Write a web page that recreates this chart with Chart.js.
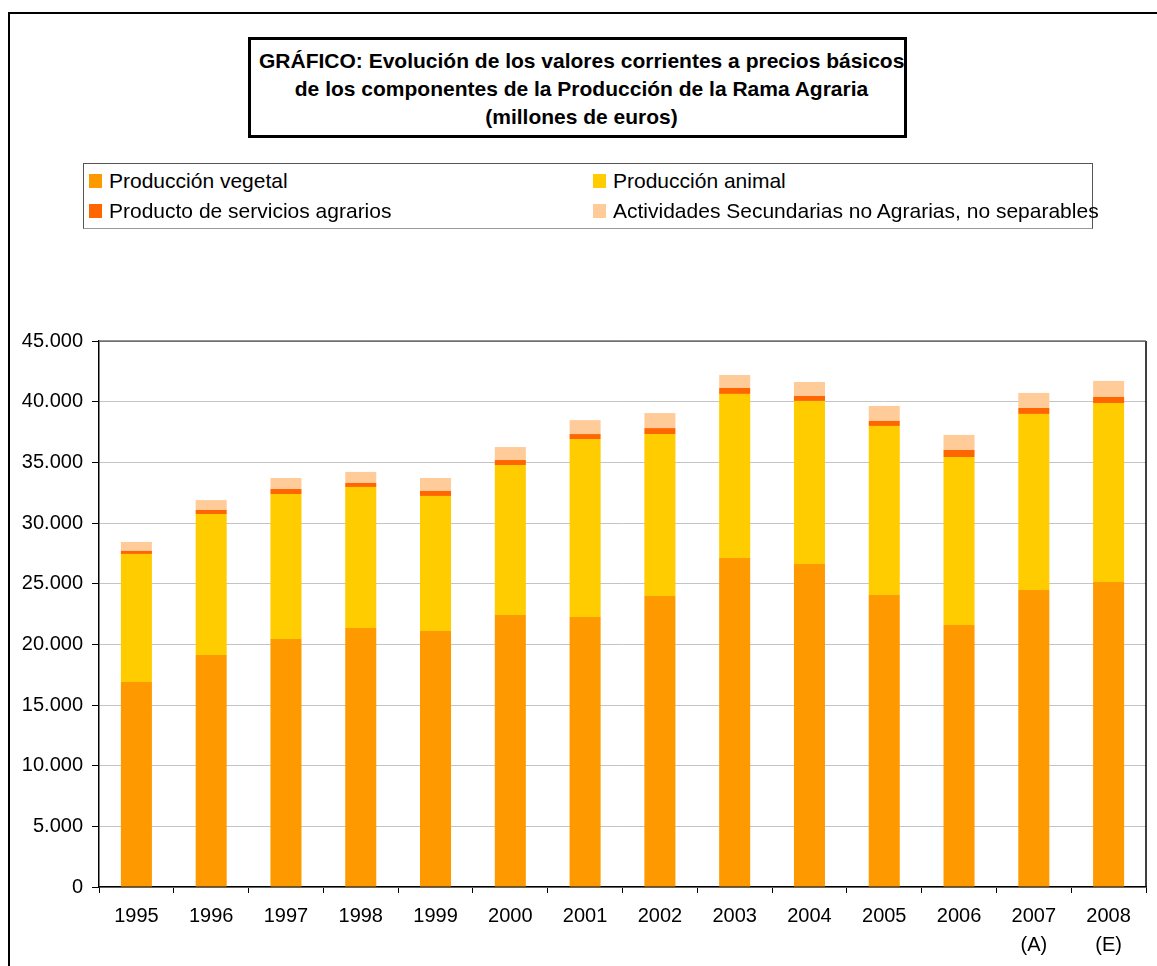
<!DOCTYPE html>
<html>
<head>
<meta charset="utf-8">
<script src="https://cdn.jsdelivr.net/npm/chart.js@4/dist/chart.umd.min.js"></script>
<style>
  html, body { margin:0; padding:0; background:#fff; }
  body { width:1157px; height:966px; position:relative; overflow:hidden; font-family:"Liberation Sans", Arial, sans-serif; }
  #frame { position:absolute; left:8px; top:12px; width:1200px; height:1000px; border-top:2px solid #000; border-left:2px solid #000; box-sizing:border-box; }
  #cv { position:absolute; left:0; top:0; }
  #title { position:absolute; left:248px; top:37px; width:659px; height:101px; border:3px solid #000; box-sizing:border-box; background:#fff;
           font-weight:bold; font-size:21px; text-align:center; padding-top:7px; padding-left:8px; }
  #title div { line-height:28px; white-space:nowrap; }
  #legend { position:absolute; left:83px; top:163px; width:1010px; height:66px; border:1px solid #555; border-bottom-color:#999; box-sizing:border-box; background:#fff; }
  .li { position:absolute; height:30px; line-height:30px; font-size:21px; white-space:nowrap; color:#000; }
  .sw { position:absolute; width:13px; height:14px; }
</style>
</head>
<body>
<div id="frame"></div>
<canvas id="cv" width="1157" height="966"></canvas>
<div id="title">
  <div>GRÁFICO: Evolución de los valores corrientes a precios básicos</div>
  <div>de los componentes de la Producción de la Rama Agraria</div>
  <div>(millones de euros)</div>
</div>
<div id="legend"></div>
<script>
// ---- data ----
const years = ['1995','1996','1997','1998','1999','2000','2001','2002','2003','2004','2005','2006','2007','2008'];
const yearNotes = ['','','','','','','','','','','','','(A)','(E)'];
const seriesNames = ['Producción vegetal','Producción animal','Producto de servicios agrarios','Actividades Secundarias no Agrarias, no separables'];
const seriesColors = ['#FF9900','#FFCC00','#FF6600','#FFCC99'];
const produccionVegetal = [16900,19120,20440,21350,21100,22420,22250,23980,27120,26620,24070,21590,24480,25140];
const produccionAnimal  = [10550,11620,11950,11620,11130,12360,14670,13350,13520,13440,13930,13850,14510,14750];
const serviciosAgrarios = [250,330,410,330,410,410,410,490,490,410,410,580,490,500];
const actividadesSecundarias = [740,820,910,910,1070,1070,1150,1240,1070,1150,1240,1240,1240,1320];
const yTicks = [0,5000,10000,15000,20000,25000,30000,35000,40000,45000];

const seriesValues = [produccionVegetal, produccionAnimal, serviciosAgrarios, actividadesSecundarias];
const labels = years.map((y,i) => yearNotes[i] ? [y, yearNotes[i]] : [y]);

// ---- legend (HTML text) ----
const lg = document.getElementById('legend');
const legendPos = [[0,0],[1,0],[0,1],[1,1]];
seriesNames.forEach((n,i) => {
  const col = legendPos[i][0], row = legendPos[i][1];
  const sx = col === 0 ? 5 : 509;
  const cy = row === 0 ? 17 : 47;
  const sw = document.createElement('div');
  sw.className = 'sw'; sw.style.left = sx + 'px'; sw.style.top = (cy - 7) + 'px'; sw.style.background = seriesColors[i];
  lg.appendChild(sw);
  const t = document.createElement('div');
  t.className = 'li'; t.style.left = (sx + 20) + 'px'; t.style.top = (cy - 15) + 'px'; t.textContent = n;
  lg.appendChild(t);
});

function fmt(v){ return String(v).replace(/\B(?=(\d{3})+(?!\d))/g, '.'); }

const frameBorder = {
  id:'frameBorder',
  afterDraw(chart){
    const a = chart.chartArea, c = chart.ctx;
    c.save();
    c.strokeStyle = '#000'; c.lineWidth = 1.5;
    c.beginPath(); c.moveTo(a.right, a.top); c.lineTo(a.right, a.bottom); c.stroke();
    c.strokeStyle = '#707070'; c.lineWidth = 1.5;
    c.beginPath(); c.moveTo(a.left, a.top); c.lineTo(a.right, a.top); c.stroke();
    c.restore();
  }
};

new Chart(document.getElementById('cv'), {
  type:'bar',
  data:{
    labels: labels,
    datasets: seriesNames.map((n,i) => ({
      label:n, data:seriesValues[i], backgroundColor:seriesColors[i], borderWidth:0,
      barPercentage:0.415, categoryPercentage:1.0
    }))
  },
  options:{
    responsive:false, animation:false, devicePixelRatio:1,
    layout:{ padding:{ left:0, top:341, right:11, bottom:9 } },
    plugins:{ legend:{display:false}, title:{display:false}, tooltip:{enabled:false} },
    scales:{
      x:{
        stacked:true,
        afterFit(s){ s.height = 70; },
        grid:{ offset:true, drawOnChartArea:false, tickLength:6, tickColor:'#000' },
        border:{ color:'#000', width:1.5 },
        ticks:{ color:'#000', padding:9, maxRotation:0, autoSkip:false,
                font:{ family:'"Liberation Sans", Arial, sans-serif', size:20, lineHeight:1.45 } }
      },
      y:{
        stacked:true, min:0, max:45000,
        afterFit(s){ s.width = 99; },
        afterBuildTicks(s){ s.ticks = yTicks.map(v => ({value:v})); },
        grid:{ color:(ctx) => (ctx.tick && ctx.tick.value === 45000) ? '#707070' : '#c4c4c4', lineWidth:1, tickLength:7, tickColor:'#000' },
        border:{ color:'#000', width:1.5 },
        ticks:{ color:'#000', padding:9, callback:(v) => fmt(v),
                font:{ family:'"Liberation Sans", Arial, sans-serif', size:20 } }
      }
    }
  },
  plugins:[frameBorder]
});
</script>
</body>
</html>
